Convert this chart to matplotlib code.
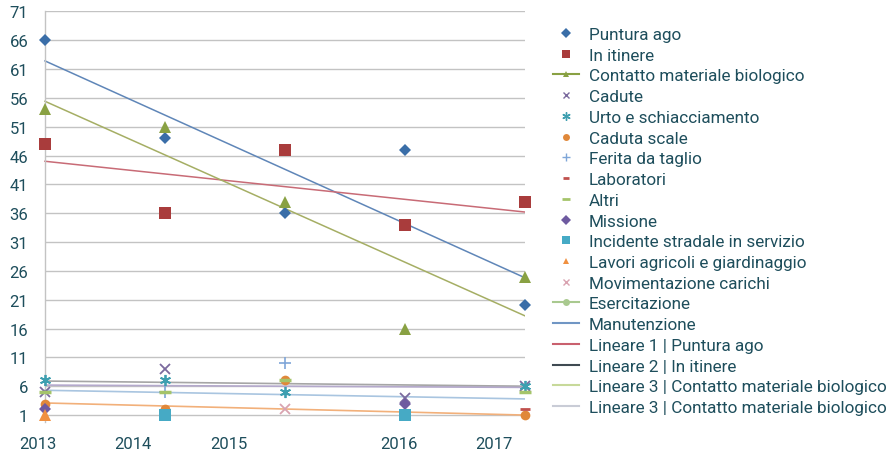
import numpy as np
import matplotlib
matplotlib.use("Agg")
import matplotlib.pyplot as plt
from matplotlib.lines import Line2D

plt.rcParams['font.family'] = ['Roboto', 'DejaVu Sans']

# ---- data ----
years = ['2013', '2014', '2015', '2016', '2017']
nan = np.nan

puntura_ago = [66, 49, 36, 47, 20]
in_itinere = [48, 36, 47, 34, 38]
contatto_bio = [54, 51, 38, 16, 25]
cadute = [5, 9, nan, 4, 6]
urto = [7, 7, 5, nan, 6]
caduta_scale = [3, 2, 7, nan, 1]
ferita = [nan, 5, 10, nan, nan]
laboratori = [nan, nan, nan, nan, 2]
altri = [5, 5, 7, nan, 5]
missione = [2, nan, nan, 3, nan]
incidente = [nan, 1, nan, 1, nan]
lavori = [1, nan, nan, nan, nan]
movimentazione = [nan, nan, 2, nan, nan]

# low, almost flat trend lines near the bottom (start 2013, end 2017)
low_trend_start = [6.9, 6.2, 5.3, 3.1]
low_trend_end = [6.0, 5.8, 3.8, 1.0]
low_trend_col = ['#A6A6A6', '#B4A9CC', '#A9C5E0', '#F2B07A']

legend_labels = [
    'Puntura ago', 'In itinere', 'Contatto materiale biologico', 'Cadute',
    'Urto e schiacciamento', 'Caduta scale', 'Ferita da taglio', 'Laboratori',
    'Altri', 'Missione', 'Incidente stradale in servizio',
    'Lavori agricoli e giardinaggio', 'Movimentazione carichi', 'Esercitazione',
    'Manutenzione', 'Lineare 1 | Puntura ago', 'Lineare 2 | In itinere',
    'Lineare 3 | Contatto materiale biologico',
    'Lineare 3 | Contatto materiale biologico',
]

TXT = '#1E4E5C'
GRID = '#C3C3C3'
AST = (6, 2, 0)

x = np.arange(len(years))
yticks = np.arange(1, 72, 5)

# x from -0.1 to 4: data x=0 sits at pixel 45, x=4 at pixel 525
fig = plt.figure(figsize=(8.9, 4.52), dpi=100)
ax = fig.add_axes([33 / 890, 1 - 423 / 452, 492 / 890, 410.7 / 452])

# horizontal gridlines only across the data span
ax.hlines(yticks, 0, 4, color=GRID, lw=1, zorder=1)

# trend lines of the three main series
for vals, col in [(puntura_ago, '#5F86B8'), (in_itinere, '#C86B76'),
                  (contatto_bio, '#A5AE64')]:
    k, b = np.polyfit(x, vals, 1)
    ax.plot(x, k * x + b, color=col, lw=1.1, zorder=2)

for s, e, c in zip(low_trend_start, low_trend_end, low_trend_col):
    ax.plot([x[0], x[-1]], [s, e], color=c, lw=1.2, zorder=2)

# scatter series: (values, marker, colour, size, edge width)
series = [
    (puntura_ago, 'D', '#3A6EA8', 6, 0),
    (in_itinere, 's', '#A93C3C', 8, 0),
    (contatto_bio, '^', '#89A143', 8, 0),
    (cadute, 'x', '#7B6A9E', 7, 1.3),
    (urto, AST, '#3E9FB0', 8, 1.3),
    (caduta_scale, 'o', '#E0883A', 7, 0),
    (ferita, '+', '#7FA6D8', 8, 1.2),
    (laboratori, '_', '#C0504D', 7, 2),
    (altri, '_', '#A5C46A', 8, 2.5),
    (missione, 'D', '#6E5AA0', 6, 0),
    (incidente, 's', '#46AAC5', 8, 0),
    (lavori, '^', '#F09040', 8, 0),
    (movimentazione, 'x', '#D9A3B0', 7, 1.3),
]
for vals, m, c, ms, mew in series:
    ax.plot(x, vals, ls='none', marker=m, color=c, ms=ms, mew=mew,
            clip_on=False, zorder=4)

ax.set_yticks(yticks)
ax.set_xticks([-0.0625, 0.73, 1.53, 2.95, 3.74])
ax.set_xticklabels(years)
ax.set_xlim(-0.1, 4)
ax.set_ylim(-0.2, 71)
ax.tick_params(axis='both', length=0, labelsize=12, colors=TXT)
ax.tick_params(axis='y', pad=12)
ax.tick_params(axis='x', pad=10)
for sp in ['top', 'right', 'bottom']:
    ax.spines[sp].set_visible(False)
ax.spines['left'].set_position(('data', 0))
ax.spines['left'].set_color(GRID)
ax.spines['left'].set_linewidth(1)

# legend handles
def mk(m, c, ms=6, mew=0, ls='none'):
    return Line2D([], [], ls=ls, color=c, marker=m, markerfacecolor=c,
                  markeredgecolor=c, ms=ms, mew=mew, lw=1.5)

handles = [
    mk('D', '#3A6EA8', 5), mk('s', '#A93C3C', 6),
    mk('^', '#89A143', 5, ls='-'), mk('x', '#7B6A9E', 5, 1),
    mk(AST, '#3E9FB0', 6, 1), mk('o', '#E0883A', 5),
    mk('+', '#7FA6D8', 6, 1), mk('_', '#C0504D', 5, 2),
    mk('_', '#A5C46A', 6, 2), mk('D', '#6E5AA0', 5),
    mk('s', '#46AAC5', 6), mk('^', '#F09040', 5),
    mk('x', '#D9A3B0', 5, 1), mk('o', '#A9C98F', 5, ls='-'),
    mk(None, '#7096C4', ls='-'), mk(None, '#C9606E', ls='-'),
    mk(None, '#3F4A52', ls='-'), mk(None, '#C7D99A', ls='-'),
    mk(None, '#C9CCD6', ls='-'),
]

fig.legend(handles, legend_labels, loc='upper left',
           bbox_to_anchor=(553 / 890, 1 - 28 / 452), frameon=False,
           fontsize=12.3, labelcolor=TXT, labelspacing=0.335,
           handlelength=1.5, handletextpad=0.6, borderpad=0,
           borderaxespad=0)

fig.savefig('out.png', dpi=100)
